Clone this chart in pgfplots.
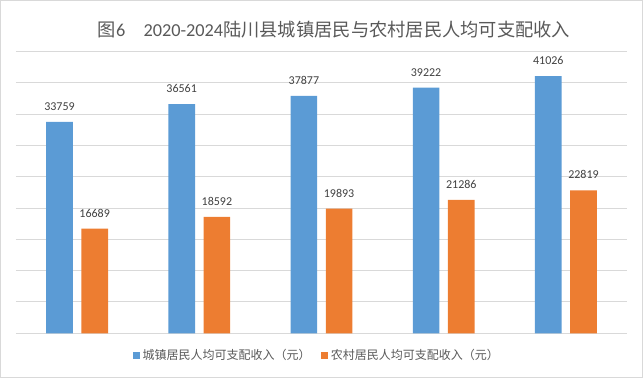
\documentclass[border=0pt]{standalone}
\usepackage{pgfplots}
\pgfplotsset{compat=1.18}
\usepackage{fontspec}
\setmainfont{Carlito}
\newfontfamily\cjk{Noto Sans CJK SC}
\definecolor{cblue}{HTML}{5B9BD5}
\definecolor{corange}{HTML}{ED7D31}
\definecolor{cgrid}{HTML}{D9D9D9}
\definecolor{ctxt}{HTML}{595959}
\definecolor{clab}{HTML}{404040}
\begin{document}
\begin{tikzpicture}
\useasboundingbox (0,0) rectangle (482.25pt,283.5pt);
\draw[cgrid, line width=0.75pt] (0.375pt,0.375pt) rectangle (481.875pt,283.125pt);
\node[text=ctxt, font=\fontsize{13.7}{16}\selectfont] at (250.5pt,261.5pt) {{\cjk 图}6\quad 2020-2024{\cjk 陆川县城镇居民与农村居民人均可支配收入}};
\begin{axis}[
  at={(12pt,33.5pt)}, anchor=south west,
  scale only axis, width=458.25pt, height=211.5pt,
  xmin=-0.5, xmax=4.5, ymin=0, ymax=45000,
  ytick={0,5000,...,45000}, yticklabels={},
  scaled y ticks=false,
  xtick=\empty,
  ymajorgrids, grid style={cgrid, line width=0.75pt},
  axis line style={draw=none},
  major tick length=0pt,
  ybar, bar width=20pt,
  nodes near coords,
  /pgf/number format/assume math mode=true,
  /pgf/number format/1000 sep={},
  nodes near coords style={font=\fontsize{9}{11}\selectfont, text=clab, anchor=south, yshift=5pt},
  legend columns=2,
  legend style={draw=none, fill=none, at={(0.493,-0.077)}, anchor=center,
    font=\fontsize{9}{11}\selectfont, text=ctxt, /tikz/every even column/.append style={column sep=6pt}},
  legend image code/.code={\fill[#1] (0pt,-2.6pt) rectangle (5.2pt,2.6pt);},
]
\addplot[fill=cblue, draw=none, bar shift=-13.2pt] coordinates {(0,33759) (1,36561) (2,37877) (3,39222) (4,41026)};
\addplot[fill=corange, draw=none, bar shift=13.2pt] coordinates {(0,16689) (1,18592) (2,19893) (3,21286) (4,22819)};
\legend{{\cjk 城镇居民人均可支配收入（元）},{\cjk 农村居民人均可支配收入（元）}}
\end{axis}
\end{tikzpicture}
\end{document}
